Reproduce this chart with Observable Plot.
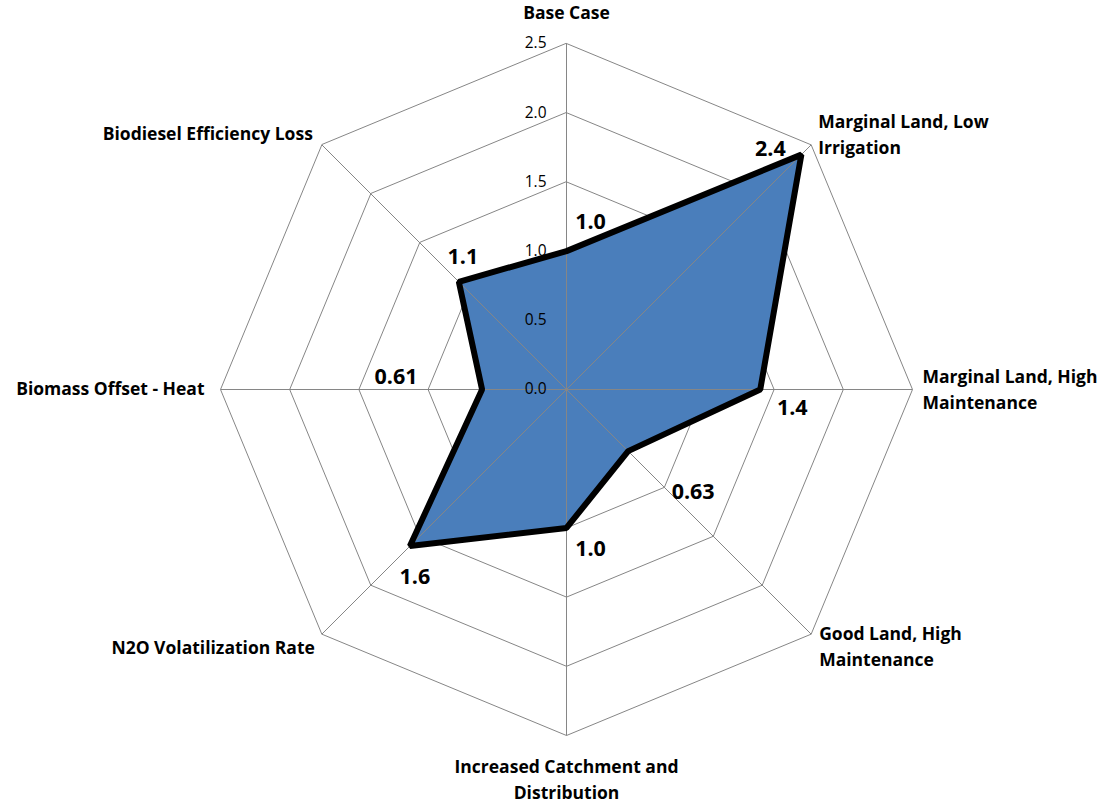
<!DOCTYPE html>
<html><head><meta charset="utf-8">
<script src="https://cdn.jsdelivr.net/npm/d3@7"></script>
<script src="https://cdn.jsdelivr.net/npm/@observablehq/plot@0.6"></script>
<style>body{margin:0;background:#fff;} #chart{width:1114px;height:805px;}</style>
</head><body><div id="chart"></div>
<script>
const categories = ["Base Case","Marginal Land, Low Irrigation","Marginal Land, High Maintenance","Good Land, High Maintenance","Increased Catchment and Distribution","N2O Volatilization Rate","Biomass Offset - Heat","Biodiesel Efficiency Loss"];
const categoryLines = [["Base Case"],["Marginal Land, Low","Irrigation"],["Marginal Land, High","Maintenance"],["Good Land, High","Maintenance"],["Increased Catchment and","Distribution"],["N2O Volatilization Rate"],["Biomass Offset - Heat"],["Biodiesel Efficiency Loss"]];
const values = [1.0, 2.4, 1.4, 0.63, 1.0, 1.6, 0.61, 1.1];
const valueLabels = ["1.0","2.4","1.4","0.63","1.0","1.6","0.61","1.1"];
const ticks = [0, 0.5, 1.0, 1.5, 2.0, 2.5];
const tickLabels = ["0.0","0.5","1.0","1.5","2.0","2.5"];
const rMax = 2.5;

// layout (pixel offsets for labels)
const valueOffsets = [[24,-29],[-31,-6],[32,19],[65,41],[24,21],[5,31],[-86,-12],[4,-25]];
const catOffsets = [[0,-30,"middle"],[7,-9,"start"],[10,1,"start"],[8,13,"start"],[0,45,"middle"],[-7,14,"end"],[-16,0,"end"],[-9,-10,"end"]];

const n = categories.length;
const ang = i => i * 2 * Math.PI / n;
const px = (r,i) => r * Math.sin(ang(i));
const py = (r,i) => r * Math.cos(ang(i));

const W = 1114, H = 805, cx = 566, cy = 389, unit = 138.4;

const poly = values.map((v,i) => ({x: px(v,i), y: py(v,i)}));
const rings = ticks.filter(t => t > 0).flatMap(t => d3.range(n).map(i => ({t, x: px(t,i), y: py(t,i)})));
const spokes = d3.range(n).map(i => ({x2: px(rMax,i), y2: py(rMax,i)}));
const valTexts = values.map((v,i) => ({x: px(v,i), y: py(v,i), label: valueLabels[i], dx: valueOffsets[i][0], dy: valueOffsets[i][1]}));
const catTexts = [];
categoryLines.forEach((lines,i) => {
  const [dx, dy, anchor] = catOffsets[i];
  const lh = 26;
  const off = -(lines.length - 1) * lh / 2;
  lines.forEach((ln, j) => catTexts.push({x: px(rMax,i), y: py(rMax,i), label: ln, dx, dy: dy + off + j*lh, anchor}));
});
const tickTexts = ticks.map((t,i) => ({x: 0, y: t, label: tickLabels[i]}));

const font = "'Open Sans', Lato, sans-serif";
const chart = Plot.plot({
  width: W, height: H, margin: 0,
  x: {domain: [-cx/unit, (W-cx)/unit], axis: null},
  y: {domain: [-(H-cy)/unit, cy/unit], axis: null},
  style: {fontFamily: font, background: "#fff"},
  marks: [
    Plot.line(rings, {x: "x", y: "y", z: "t", curve: "linear-closed", stroke: "#868686", strokeWidth: 1}),
    Plot.line(poly, {x: "x", y: "y", curve: "linear-closed", fill: "#4A7EBB", stroke: "none"}),
    Plot.link(spokes, {x1: 0, y1: 0, x2: "x2", y2: "y2", stroke: "#868686", strokeWidth: 1}),
    Plot.line(poly, {x: "x", y: "y", curve: "linear-closed", stroke: "#000", strokeWidth: 6, strokeLinejoin: "miter", fill: "none"}),
    Plot.text(tickTexts, {x: "x", y: "y", text: "label", textAnchor: "end", dx: -20, dy: 0, fontSize: 15.5, fill: "#000"}),
    ...valTexts.map(d => Plot.text([d], {x: "x", y: "y", text: "label", dx: d.dx, dy: d.dy, fontSize: 21.5, fontWeight: "bold", fill: "#000"})),
    ...catTexts.map(d => Plot.text([d], {x: "x", y: "y", text: "label", dx: d.dx, dy: d.dy, textAnchor: d.anchor, fontSize: 17.5, fontWeight: "bold", fill: "#000"}))
  ]
});
document.getElementById("chart").appendChild(chart);
</script></body></html>
